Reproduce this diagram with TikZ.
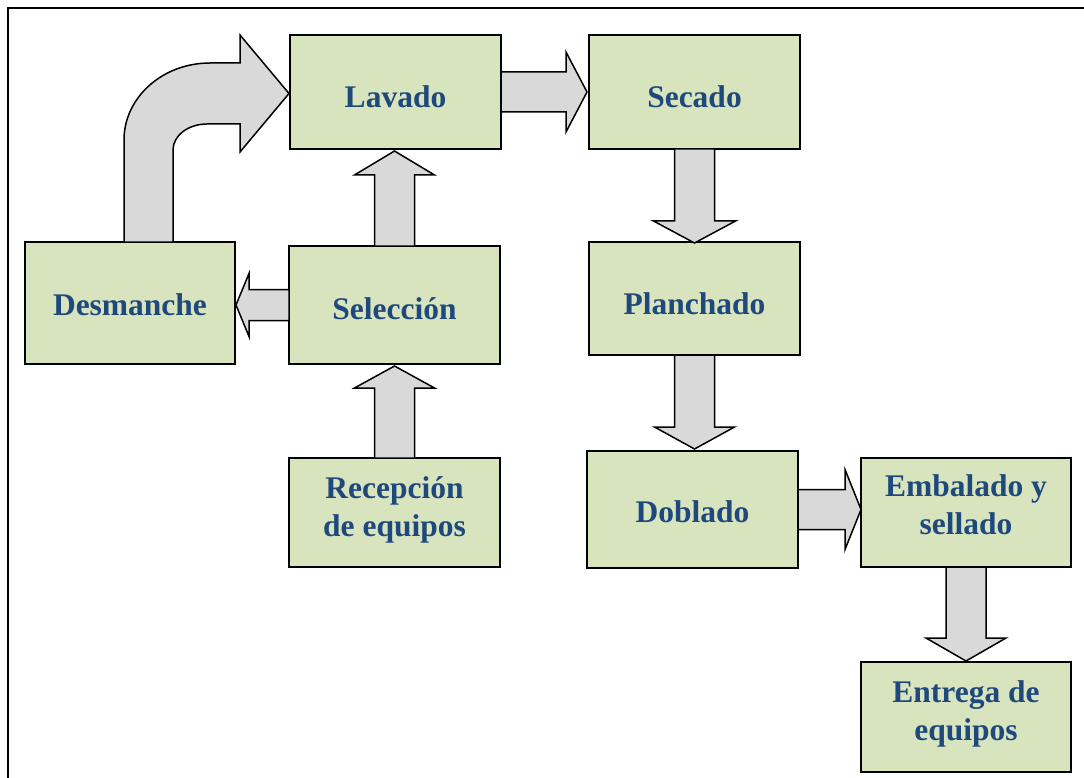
\documentclass[tikz,border=0pt]{standalone}
\usepackage{fontspec}
\setmainfont{Liberation Serif}
\usetikzlibrary{calc}
\definecolor{txtblue}{HTML}{1F497D}
\definecolor{boxgreen}{HTML}{D7E4BD}
\definecolor{arrgray}{HTML}{D9D9D9}
\begin{document}
\begin{tikzpicture}[x=1pt,y=-1pt,
  box/.style={draw=black, fill=boxgreen, line width=2pt, inner sep=0pt, outer sep=0pt, rectangle},
  txt/.style={text=txtblue, font=\fontsize{31.5}{38}\selectfont\bfseries, align=center, inner sep=0pt},
  barrow/.style={draw=black, fill=arrgray, line width=1.5pt, line join=miter}]
\useasboundingbox (0,0) rectangle (1084,778);
\fill[white] (0,0) rectangle (1084,778);
\draw[line width=1.5pt] (8,778) -- (8,8) -- (1084,8);

% boxes
\node[box, minimum width=211pt, minimum height=114pt] (lav) at (395.5,92) {};
\node[box, minimum width=211pt, minimum height=114pt] (sec) at (694.5,92) {};
\node[box, minimum width=210pt, minimum height=122pt] (des) at (130,303) {};
\node[box, minimum width=211pt, minimum height=118pt] (sel) at (394.5,305) {};
\node[box, minimum width=211pt, minimum height=113pt] (pla) at (694.5,298.5) {};
\node[box, minimum width=211pt, minimum height=109pt] (rec) at (394.5,512.5) {};
\node[box, minimum width=211pt, minimum height=117pt] (dob) at (692.5,509.5) {};
\node[box, minimum width=210pt, minimum height=109pt] (emb) at (966,512.5) {};
\node[box, minimum width=210pt, minimum height=110pt] (ent) at (966,717) {};

% texts
\node[txt] (lavT) at ($(lav.center)+(0,5)$) {Lavado};
\node[txt] (secT) at ($(sec.center)+(0,5)$) {Secado};
\node[txt] (desT) at ($(des.center)+(0,2)$) {Desmanche};
\node[txt] (selT) at ($(sel.center)+(0,3.5)$) {Selección};
\node[txt] (plaT) at ($(pla.center)+(0,5.5)$) {Planchado};
\node[txt] (recT) at ($(rec.center)+(0,-2.5)$) {Recepción\\de equipos};
\node[txt] (dobT) at ($(dob.center)+(0,2.5)$) {Doblado};
\node[txt] (embT) at ($(emb.center)+(0,-7.5)$) {Embalado y\\sellado};
\node[txt] (entT) at ($(ent.center)+(0,-3.5)$) {Entrega de\\equipos};

% tips
\coordinate (tip1) at ($(sel.north |- lav.south)+(0,2)$);
\coordinate (tip2) at ($(rec.north |- sel.south)+(0,2)$);
\coordinate (tip3) at ($(sel.west -| des.east)+(1,0)$);
\coordinate (tip4) at ($(lav.east -| sec.west)+(-2,0)$);
\coordinate (tip5) at ($(sec.south |- pla.north)+(0,1)$);
\coordinate (tip6) at ($(pla.south |- dob.north)+(0,-2)$);
\coordinate (tip7) at (dob.east -| emb.west);
\coordinate (tip8) at ($(emb.south |- ent.north)+(0,-1)$);
\coordinate (tip9) at ($(lav.west)+(-1,1.5)$);

% Selección -> Lavado
\draw[barrow] ($(sel.north)+(-20,0)$) -- ($(tip1)+(-20,24)$) -- ($(tip1)+(-40,24)$) -- (tip1)
  -- ($(tip1)+(40,24)$) -- ($(tip1)+(20,24)$) -- ($(sel.north)+(20,0)$) -- cycle;
% Recepción -> Selección
\draw[barrow] ($(rec.north)+(-20,0)$) -- ($(tip2)+(-20,22)$) -- ($(tip2)+(-40,22)$) -- (tip2)
  -- ($(tip2)+(40,22)$) -- ($(tip2)+(20,22)$) -- ($(rec.north)+(20,0)$) -- cycle;
% Selección -> Desmanche
\draw[barrow] ($(sel.west)+(0,-15.5)$) -- ($(tip3)+(13,-15.5)$) -- ($(tip3)+(13,-31.5)$) -- (tip3)
  -- ($(tip3)+(13,31.5)$) -- ($(tip3)+(13,15.5)$) -- ($(sel.west)+(0,15.5)$) -- cycle;
% Lavado -> Secado
\draw[barrow] ($(lav.east)+(0,-20)$) -- ($(tip4)+(-21,-20)$) -- ($(tip4)+(-21,-40)$) -- (tip4)
  -- ($(tip4)+(-21,40)$) -- ($(tip4)+(-21,20)$) -- ($(lav.east)+(0,20)$) -- cycle;
% Secado -> Planchado
\draw[barrow] ($(sec.south)+(-20,0)$) -- ($(tip5)+(-20,-22)$) -- ($(tip5)+(-41,-22)$) -- (tip5)
  -- ($(tip5)+(41,-22)$) -- ($(tip5)+(20,-22)$) -- ($(sec.south)+(20,0)$) -- cycle;
% Planchado -> Doblado
\draw[barrow] ($(pla.south)+(-20,0)$) -- ($(tip6)+(-20,-22)$) -- ($(tip6)+(-40,-22)$) -- (tip6)
  -- ($(tip6)+(40,-22)$) -- ($(tip6)+(20,-22)$) -- ($(pla.south)+(20,0)$) -- cycle;
% Doblado -> Embalado
\draw[barrow] ($(dob.east)+(0,-20)$) -- ($(tip7)+(-16,-20)$) -- ($(tip7)+(-16,-40)$) -- (tip7)
  -- ($(tip7)+(-16,40)$) -- ($(tip7)+(-16,20)$) -- ($(dob.east)+(0,20)$) -- cycle;
% Embalado -> Entrega
\draw[barrow] ($(emb.south)+(-20,0)$) -- ($(tip8)+(-20,-23)$) -- ($(tip8)+(-40,-23)$) -- (tip8)
  -- ($(tip8)+(40,-23)$) -- ($(tip8)+(20,-23)$) -- ($(emb.south)+(20,0)$) -- cycle;
% Desmanche -> Lavado (curved)
\draw[barrow] ($(des.north)+(-6,0)$) -- (124,140) .. controls (124,97.5) and (162.5,63) .. (210,63)
  -- ($(tip9)+(-49,-30.5)$) -- ($(tip9)+(-49,-58.5)$) -- (tip9)
  -- ($(tip9)+(-49,58.5)$) -- ($(tip9)+(-49,30.5)$)
  -- (207,124) .. controls (188.2,124) and (173,135.6) .. (173,150)
  -- ($(des.north)+(43,0)$) -- cycle;
\end{tikzpicture}
\end{document}
